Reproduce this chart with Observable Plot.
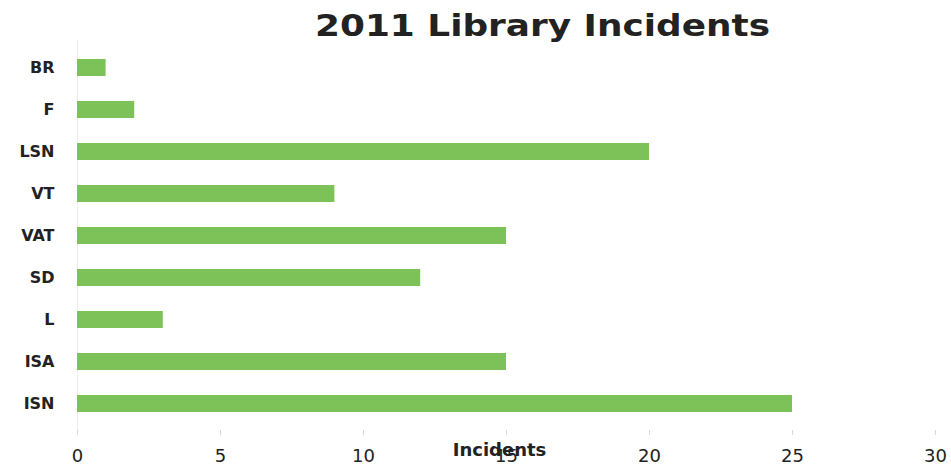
<!DOCTYPE html>
<html>
<head>
<meta charset="utf-8">
<script src="https://cdn.jsdelivr.net/npm/d3@7"></script>
<script src="https://cdn.jsdelivr.net/npm/@observablehq/plot@0.6"></script>
<style>
  html, body { margin: 0; padding: 0; background: #fff; }
  svg { display: block; }
</style>
</head>
<body>
<div id="chart"></div>
<script>
const titleText = "2011 Library Incidents";
const categories = ["BR", "F", "LSN", "VT", "VAT", "SD", "L", "ISA", "ISN"];
const values = [1, 2, 20, 9, 15, 12, 3, 15, 25];
const xTicks = [0, 5, 10, 15, 20, 25, 30];
const xLabel = "Incidents";

const data = categories.map((c, i) => ({category: c, value: values[i]}));

const chart = Plot.plot({
  width: 951,
  height: 467,
  marginTop: 40,
  marginBottom: 37,
  marginLeft: 77,
  marginRight: 16,
  style: {fontFamily: "'DejaVu Sans', sans-serif", background: "#fff"},
  x: {domain: [0, 30], ticks: xTicks},
  y: {domain: categories, paddingInner: 0.6, paddingOuter: 0.36},
  marks: [
    Plot.ruleY([0], {frameAnchor: "bottom", stroke: "#e2e2e2"}),
    Plot.ruleX([0], {stroke: "#ececec"}),
    Plot.barX(data, {y: "category", x: "value", fill: "#7dc259"}),
    Plot.axisX({
      ticks: xTicks, tickSize: 5, tickPadding: 14, stroke: "#d8d8d8",
      fontSize: 18, fill: "#222", label: null
    }),
    Plot.axisY({
      tickSize: 0, tickPadding: 23, fontSize: 16, fontWeight: "bold",
      fill: "#222", label: null
    }),
    Plot.text([xLabel], {
      frameAnchor: "bottom", lineAnchor: "middle", dx: -7, dy: 20,
      fontSize: 18, fontWeight: "bold", fill: "#222"
    }),
    Plot.text([titleText], {
      frameAnchor: "top", lineAnchor: "middle", dx: 36, dy: -14,
      fontSize: 30, fontWeight: "bold", fill: "#222"
    })
  ]
});
d3.select(chart).selectAll("text")
  .filter(function() { return this.textContent === titleText; })
  .attr("textLength", 455)
  .attr("lengthAdjust", "spacingAndGlyphs");
document.getElementById("chart").appendChild(chart);
</script>
</body>
</html>
